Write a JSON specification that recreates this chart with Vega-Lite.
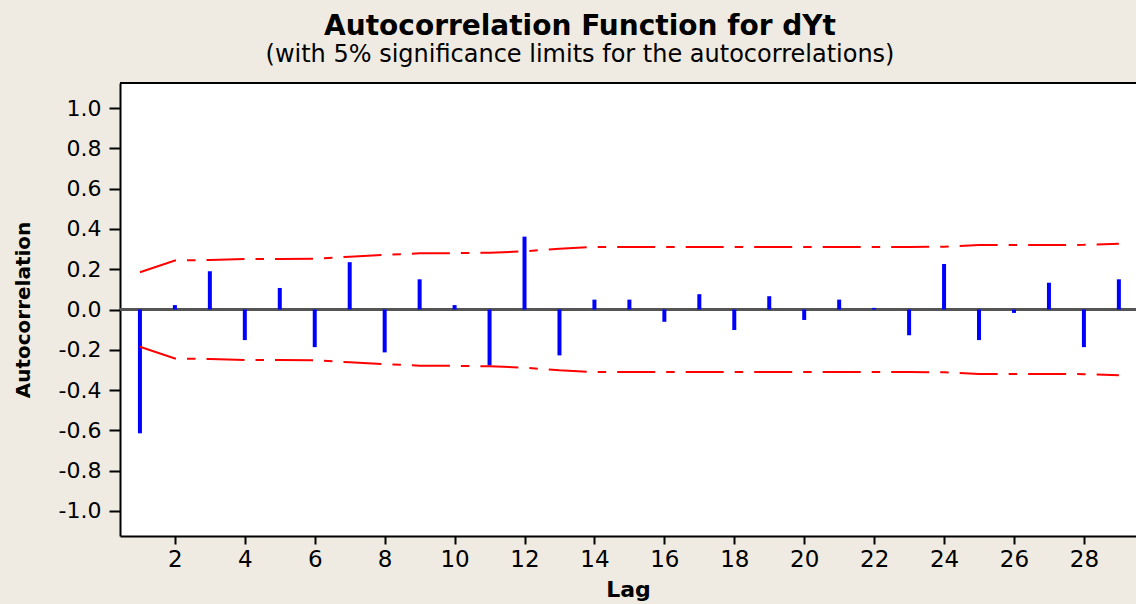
{
  "$schema": "https://vega.github.io/schema/vega-lite/v6.json",
  "width": 1016,
  "height": 453,
  "autosize": {"type": "none"},
  "padding": {"left": 120, "top": 83, "right": 0, "bottom": 68},
  "background": "#EFEBE2",
  "title": {
    "text": "Autocorrelation Function for dYt",
    "subtitle": "(with 5% significance limits for the autocorrelations)",
    "anchor": "middle",
    "frame": "group",
    "dx": -48,
    "offset": 15,
    "font": "DejaVu Sans",
    "fontSize": 28,
    "fontWeight": "bold",
    "color": "#000000",
    "subtitleFont": "DejaVu Sans",
    "subtitleFontSize": 24,
    "subtitleColor": "#000000",
    "subtitlePadding": 2
  },
  "datasets": {
    "acf": [
      {"lag": 1, "acf": -0.615},
      {"lag": 2, "acf": 0.022},
      {"lag": 3, "acf": 0.19},
      {"lag": 4, "acf": -0.152},
      {"lag": 5, "acf": 0.107},
      {"lag": 6, "acf": -0.187},
      {"lag": 7, "acf": 0.235},
      {"lag": 8, "acf": -0.213},
      {"lag": 9, "acf": 0.15},
      {"lag": 10, "acf": 0.022},
      {"lag": 11, "acf": -0.278},
      {"lag": 12, "acf": 0.362},
      {"lag": 13, "acf": -0.228},
      {"lag": 14, "acf": 0.049},
      {"lag": 15, "acf": 0.049},
      {"lag": 16, "acf": -0.061},
      {"lag": 17, "acf": 0.076},
      {"lag": 18, "acf": -0.102},
      {"lag": 19, "acf": 0.066},
      {"lag": 20, "acf": -0.052},
      {"lag": 21, "acf": 0.049},
      {"lag": 22, "acf": 0.008},
      {"lag": 23, "acf": -0.128},
      {"lag": 24, "acf": 0.226},
      {"lag": 25, "acf": -0.152},
      {"lag": 26, "acf": -0.017},
      {"lag": 27, "acf": 0.133},
      {"lag": 28, "acf": -0.187},
      {"lag": 29, "acf": 0.15}
    ],
    "limits": [
      {"lag": 1, "ucl": 0.185, "lcl": -0.185},
      {"lag": 2, "ucl": 0.243, "lcl": -0.243},
      {"lag": 3, "ucl": 0.246, "lcl": -0.246},
      {"lag": 4, "ucl": 0.251, "lcl": -0.251},
      {"lag": 5, "ucl": 0.251, "lcl": -0.251},
      {"lag": 6, "ucl": 0.252, "lcl": -0.252},
      {"lag": 7, "ucl": 0.262, "lcl": -0.262},
      {"lag": 8, "ucl": 0.271, "lcl": -0.271},
      {"lag": 9, "ucl": 0.279, "lcl": -0.279},
      {"lag": 10, "ucl": 0.28, "lcl": -0.28},
      {"lag": 11, "ucl": 0.282, "lcl": -0.282},
      {"lag": 12, "ucl": 0.289, "lcl": -0.289},
      {"lag": 13, "ucl": 0.302, "lcl": -0.302},
      {"lag": 14, "ucl": 0.311, "lcl": -0.311},
      {"lag": 15, "ucl": 0.311, "lcl": -0.311},
      {"lag": 16, "ucl": 0.311, "lcl": -0.311},
      {"lag": 17, "ucl": 0.311, "lcl": -0.311},
      {"lag": 18, "ucl": 0.311, "lcl": -0.311},
      {"lag": 19, "ucl": 0.311, "lcl": -0.311},
      {"lag": 20, "ucl": 0.311, "lcl": -0.311},
      {"lag": 21, "ucl": 0.311, "lcl": -0.311},
      {"lag": 22, "ucl": 0.311, "lcl": -0.311},
      {"lag": 23, "ucl": 0.311, "lcl": -0.311},
      {"lag": 24, "ucl": 0.312, "lcl": -0.312},
      {"lag": 25, "ucl": 0.32, "lcl": -0.32},
      {"lag": 26, "ucl": 0.32, "lcl": -0.32},
      {"lag": 27, "ucl": 0.32, "lcl": -0.32},
      {"lag": 28, "ucl": 0.321, "lcl": -0.321},
      {"lag": 29, "ucl": 0.326, "lcl": -0.326}
    ]
  },
  "layer": [
    {
      "data": {"name": "acf"},
      "mark": {"type": "rule", "color": "#555555", "strokeWidth": 2},
      "encoding": {"y": {"datum": 0, "type": "quantitative"}}
    },
    {
      "data": {"name": "acf"},
      "mark": {"type": "rule", "color": "#000000", "strokeWidth": 2},
      "encoding": {"y": {"datum": 1.125, "type": "quantitative"}}
    },
    {
      "data": {"name": "acf"},
      "mark": {"type": "rule", "color": "#0000FF", "strokeWidth": 4, "strokeCap": "butt"},
      "encoding": {
        "x": {
          "field": "lag",
          "type": "quantitative",
          "scale": {"domain": [0.43, 29.49], "nice": false, "zero": false},
          "axis": {
            "values": [2, 4, 6, 8, 10, 12, 14, 16, 18, 20, 22, 24, 26, 28],
            "format": "d",
            "title": "Lag",
            "labelFontSize": 23,
            "tickSize": 8,
            "labelPadding": 4,
            "titlePadding": 8
          }
        },
        "y": {
          "field": "acf",
          "type": "quantitative",
          "scale": {"domain": [-1.125, 1.125], "nice": false, "zero": false},
          "axis": {
            "values": [-1, -0.8, -0.6, -0.4, -0.2, 0, 0.2, 0.4, 0.6, 0.8, 1],
            "format": ".1f",
            "labelExpr": "replace(datum.label, '\u2212', '-')",
            "title": "Autocorrelation",
            "titleFontSize": 20,
            "tickSize": 11,
            "labelPadding": 8,
            "titlePadding": 25
          }
        },
        "y2": {"datum": 0}
      }
    },
    {
      "data": {"name": "limits"},
      "mark": {"type": "line", "color": "#FF0000", "strokeWidth": 2, "strokeDash": [38, 11, 8.5, 11]},
      "encoding": {
        "x": {"field": "lag", "type": "quantitative"},
        "y": {"field": "ucl", "type": "quantitative"}
      }
    },
    {
      "data": {"name": "limits"},
      "mark": {"type": "line", "color": "#FF0000", "strokeWidth": 2, "strokeDash": [38, 11, 8.5, 11]},
      "encoding": {
        "x": {"field": "lag", "type": "quantitative"},
        "y": {"field": "lcl", "type": "quantitative"}
      }
    }
  ],
  "config": {
    "view": {"stroke": null, "fill": "#FFFFFF"},
    "axis": {
      "grid": false,
      "domainColor": "#000000",
      "domainWidth": 2,
      "tickColor": "#000000",
      "tickWidth": 2,
      "labelFont": "DejaVu Sans",
      "labelFontSize": 22,
      "labelColor": "#000000",
      "titleFont": "DejaVu Sans",
      "titleFontSize": 22,
      "titleFontWeight": "bold",
      "titleColor": "#000000"
    }
  }
}
